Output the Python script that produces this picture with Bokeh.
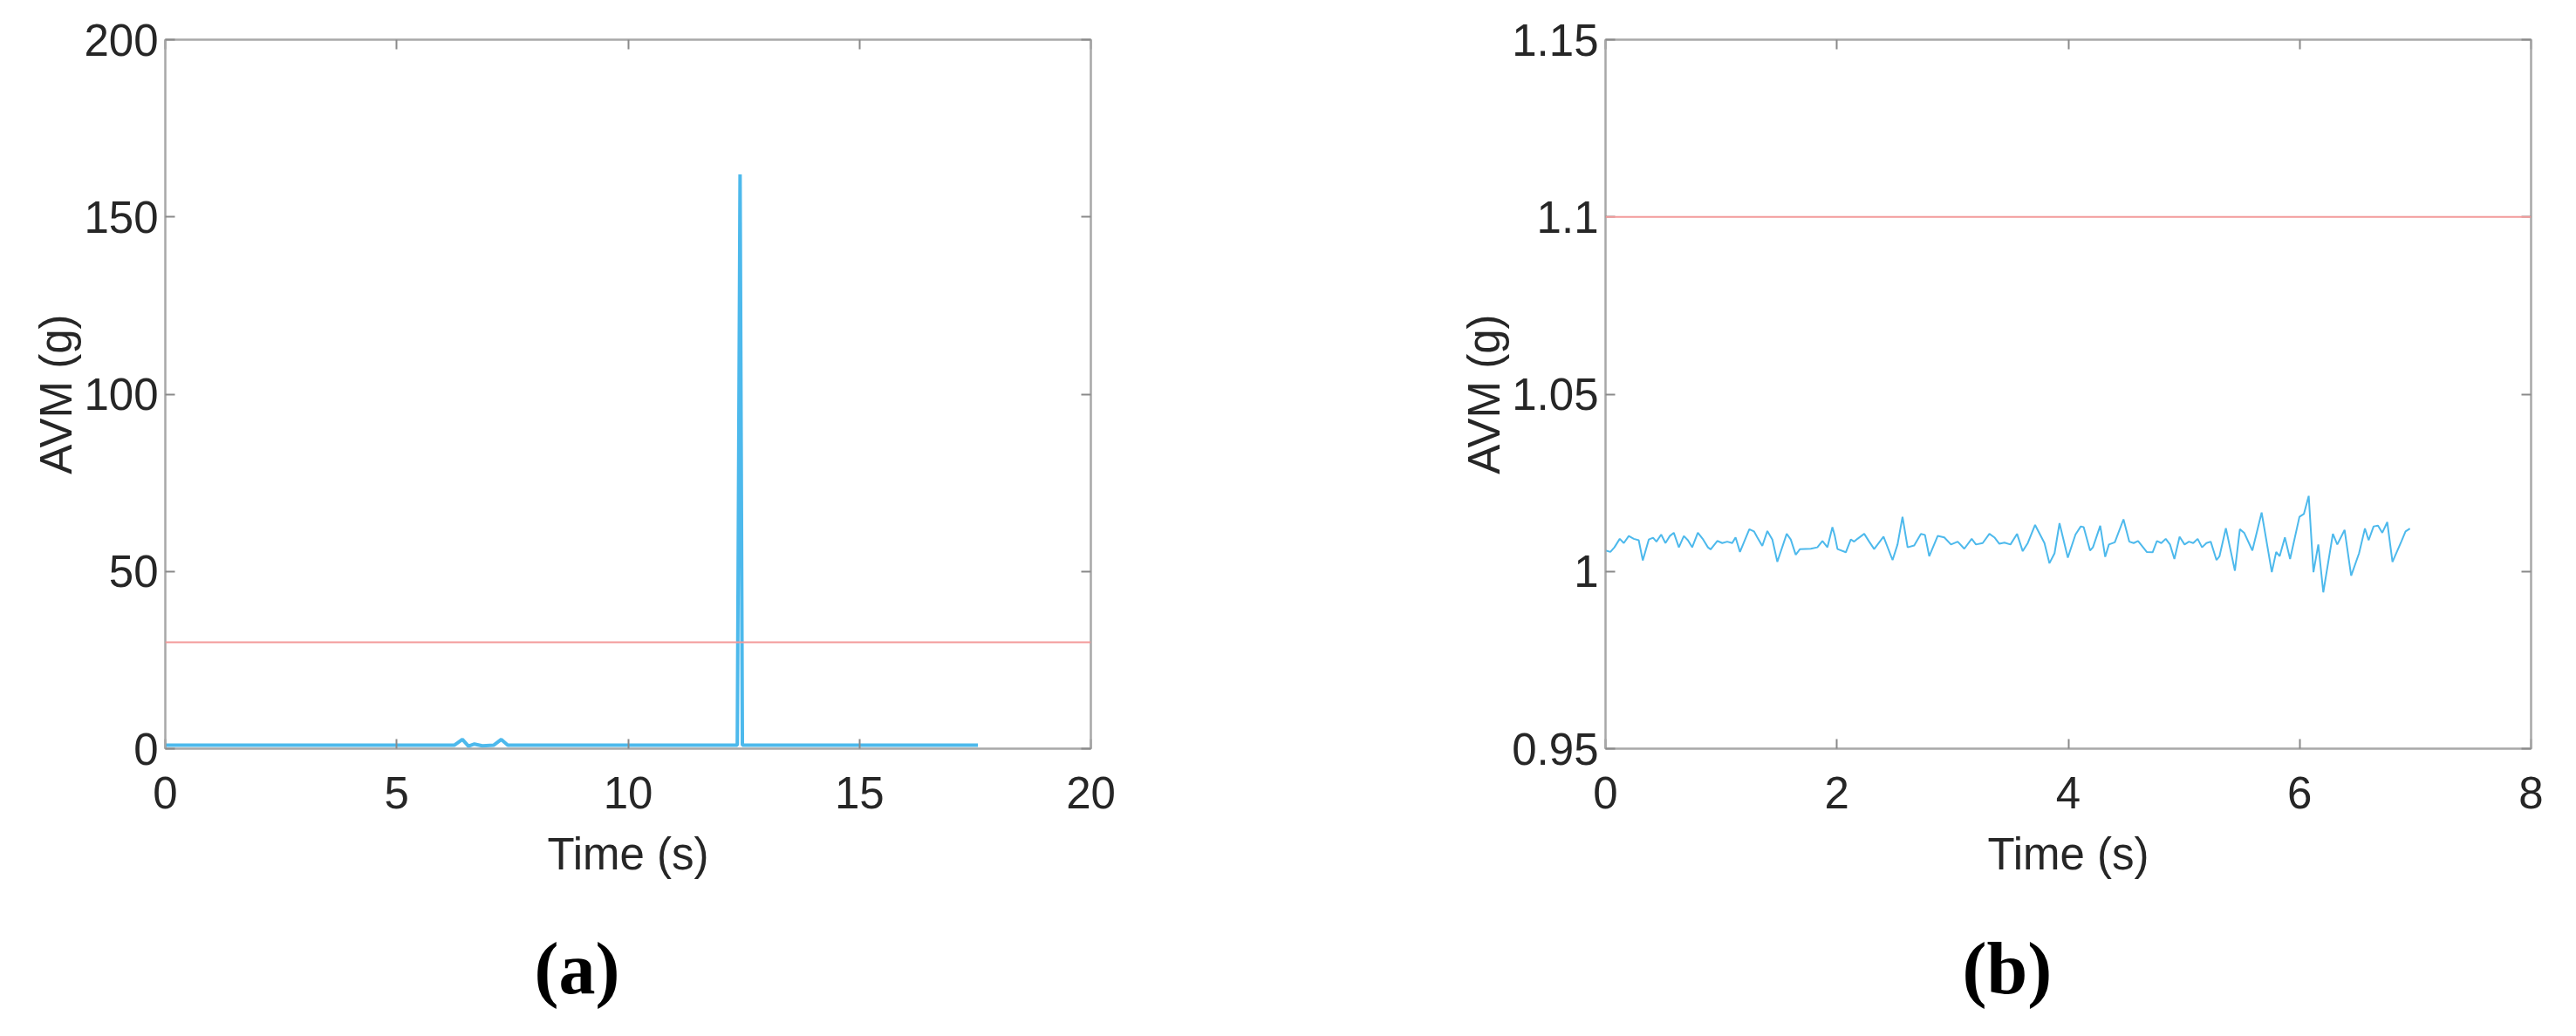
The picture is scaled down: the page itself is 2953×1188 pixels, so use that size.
from bokeh.plotting import figure
from bokeh.layouts import row
from bokeh.models import (Range1d, FixedTicker, LinearAxis, Span, Title,
                          CustomLabelingPolicy)
from bokeh.embed import file_html
from bokeh.resources import INLINE

# ---------------- data: panel (a) ----------------
time_a = [0.0, 6.25, 6.42, 6.55, 6.68, 6.85, 7.1, 7.26, 7.4, 12.36, 12.42, 12.47, 17.56]
avm_a = [1.0, 1.0, 2.6, 0.7, 1.3, 0.8, 1.0, 2.6, 1.0, 1.0, 162.0, 1.0, 1.0]
threshold_a = 30
xticks_a = [0, 5, 10, 15, 20]
yticks_a = [0, 50, 100, 150, 200]

# ---------------- data: panel (b) ----------------
time_b = [0.0, 0.042, 0.077, 0.123, 0.158, 0.201, 0.244, 0.287, 0.322, 0.374,
          0.411, 0.440, 0.481, 0.518, 0.556, 0.590, 0.634, 0.677, 0.712, 0.749,
          0.798, 0.844, 0.885, 0.908, 0.966, 1.009, 1.052, 1.095, 1.124, 1.162,
          1.243, 1.283, 1.312, 1.355, 1.399, 1.442, 1.485, 1.566, 1.601, 1.644,
          1.681, 1.774, 1.831, 1.875, 1.918, 1.961, 1.982, 2.005, 2.077, 2.120,
          2.149, 2.178, 2.236, 2.279, 2.322, 2.403, 2.481, 2.524, 2.567, 2.611,
          2.668, 2.726, 2.761, 2.798, 2.871, 2.928, 2.986, 3.044, 3.101, 3.165,
          3.202, 3.260, 3.318, 3.361, 3.404, 3.448, 3.500, 3.557, 3.606, 3.650,
          3.713, 3.794, 3.837, 3.881, 3.924, 3.996, 4.062, 4.108, 4.133, 4.188,
          4.213, 4.276, 4.319, 4.351, 4.402, 4.477, 4.527, 4.565, 4.603, 4.678,
          4.729, 4.766, 4.804, 4.842, 4.879, 4.917, 4.962, 5.005, 5.043, 5.080,
          5.118, 5.156, 5.194, 5.231, 5.281, 5.307, 5.362, 5.440, 5.483, 5.520,
          5.591, 5.671, 5.759, 5.797, 5.827, 5.872, 5.917, 5.998, 6.036, 6.078,
          6.119, 6.161, 6.204, 6.287, 6.325, 6.388, 6.445, 6.513, 6.564, 6.596,
          6.639, 6.677, 6.714, 6.757, 6.802, 6.878, 6.915, 6.953]
avm_b = [1.0059, 1.0055, 1.0068, 1.0092, 1.0080, 1.0100, 1.0092, 1.0088, 1.0031, 1.0090,
         1.0095, 1.0084, 1.0104, 1.0080, 1.0100, 1.0109, 1.0068, 1.0100, 1.0088, 1.0068,
         1.0109, 1.0090, 1.0068, 1.0062, 1.0086, 1.0080, 1.0084, 1.0080, 1.0096, 1.0055,
         1.0119, 1.0113, 1.0096, 1.0072, 1.0114, 1.0090, 1.0027, 1.0106, 1.0090, 1.0047,
         1.0063, 1.0064, 1.0068, 1.0086, 1.0068, 1.0125, 1.0100, 1.0063, 1.0054, 1.0090,
         1.0084, 1.0092, 1.0106, 1.0084, 1.0063, 1.0098, 1.0032, 1.0076, 1.0154, 1.0068,
         1.0073, 1.0106, 1.0103, 1.0043, 1.0100, 1.0096, 1.0076, 1.0084, 1.0064, 1.0092,
         1.0076, 1.0080, 1.0106, 1.0096, 1.0078, 1.0081, 1.0076, 1.0106, 1.0057, 1.0080,
         1.0131, 1.0080, 1.0023, 1.0051, 1.0136, 1.0039, 1.0104, 1.0127, 1.0125, 1.0059,
         1.0068, 1.0129, 1.0041, 1.0076, 1.0082, 1.0147, 1.0084, 1.0080, 1.0086, 1.0055,
         1.0054, 1.0086, 1.0080, 1.0092, 1.0076, 1.0035, 1.0098, 1.0076, 1.0084, 1.0080,
         1.0092, 1.0068, 1.0080, 1.0084, 1.0032, 1.0043, 1.0122, 1.0002, 1.0119, 1.0109,
         1.0059, 1.0166, 0.9998, 1.0055, 1.0043, 1.0096, 1.0035, 1.0154, 1.0162, 1.0213,
         0.9998, 1.0076, 0.9941, 1.0106, 1.0076, 1.0117, 0.9988, 1.0051, 1.0121, 1.0088,
         1.0127, 1.0129, 1.0109, 1.0139, 1.0027, 1.0084, 1.0113, 1.0121]
threshold_b = 1.1
xticks_b = [0, 2, 4, 6, 8]
yticks_b = [0.95, 1, 1.05, 1.1, 1.15]
ytick_labels_b = ["0.95", "1", "1.05", "1.1", "1.15"]

x_label = "Time (s)"
y_label = "AVM (g)"
panel_labels = ["(a)", "(b)"]

LINE_BLUE = "#4DB9EC"
LINE_RED = "#F39A9A"
AXIS_GRAY = "#A8A8A8"
TICK_GRAY = "#8A8A8A"
TEXT = "#262626"
FONT = "Liberation Sans"
FS = "51px"


def style_axis(ax, ticks, overrides=None, show_labels=True):
    ax.ticker = FixedTicker(ticks=ticks)
    ax.axis_line_color = AXIS_GRAY
    ax.axis_line_width = 2
    ax.major_tick_line_color = TICK_GRAY
    ax.major_tick_line_width = 2
    ax.major_tick_in = 11
    ax.major_tick_out = 0
    ax.minor_tick_in = 0
    ax.minor_tick_out = 0
    ax.major_label_text_font = FONT
    ax.major_label_text_color = TEXT
    ax.major_label_text_font_size = FS
    ax.axis_label_text_font = FONT
    ax.axis_label_text_color = TEXT
    ax.axis_label_text_font_style = "normal"
    ax.axis_label_text_font_size = FS
    if not show_labels:
        ax.major_label_policy = CustomLabelingPolicy(
            code="for (const i of indices) { indices.unset(i) }")
        ax.major_label_standoff = 0
    if overrides:
        ax.major_label_overrides = overrides


def make_panel(xr, yr, xt, yt, xs, ys, thr, lw, border_left, border_right,
               y_overrides, label_text, label_offset):
    p = figure(frame_width=1061, frame_height=813,
               min_border_left=border_left, min_border_right=border_right,
               min_border_top=45, min_border_bottom=306,
               x_range=Range1d(*xr), y_range=Range1d(*yr),
               output_backend="svg", toolbar_location=None,
               background_fill_color="white", border_fill_color="white")
    p.grid.visible = False
    p.outline_line_color = AXIS_GRAY
    p.outline_line_width = 2

    style_axis(p.xaxis[0], xt)
    style_axis(p.yaxis[0], yt, y_overrides)
    p.xaxis[0].axis_label = x_label
    p.yaxis[0].axis_label = y_label
    p.xaxis[0].major_label_standoff = 32
    p.xaxis[0].axis_label_standoff = 21
    p.yaxis[0].major_label_standoff = 8
    p.yaxis[0].axis_label_standoff = 0

    top = LinearAxis()
    style_axis(top, xt, show_labels=False)
    p.add_layout(top, "above")
    right = LinearAxis()
    style_axis(right, yt, show_labels=False)
    p.add_layout(right, "right")

    p.add_layout(Span(location=thr, dimension="width", line_color=LINE_RED,
                      line_width=2))
    p.line(xs, ys, line_color=LINE_BLUE, line_width=lw)

    p.add_layout(Title(text=label_text, align="left", offset=label_offset,
                       standoff=102, text_font="Liberation Serif",
                       text_font_style="bold", text_font_size="84px",
                       text_color="black"), "below")
    return p


p1 = make_panel((0, 20), (0, 200), xticks_a, yticks_a, time_a, avm_a,
                threshold_a, 4, 189, 242, None, panel_labels[0], 423)
p2 = make_panel((0, 8), (0.95, 1.15), xticks_b, yticks_b, time_b, avm_b,
                threshold_b, 2, 348, 36,
                dict(zip(["0.95", "1", "1.05", "1.1", "1.15"], ytick_labels_b)),
                panel_labels[1], 409)

layout = row(p1, p2, spacing=0)
open("out.html", "w").write(file_html(layout, INLINE))
